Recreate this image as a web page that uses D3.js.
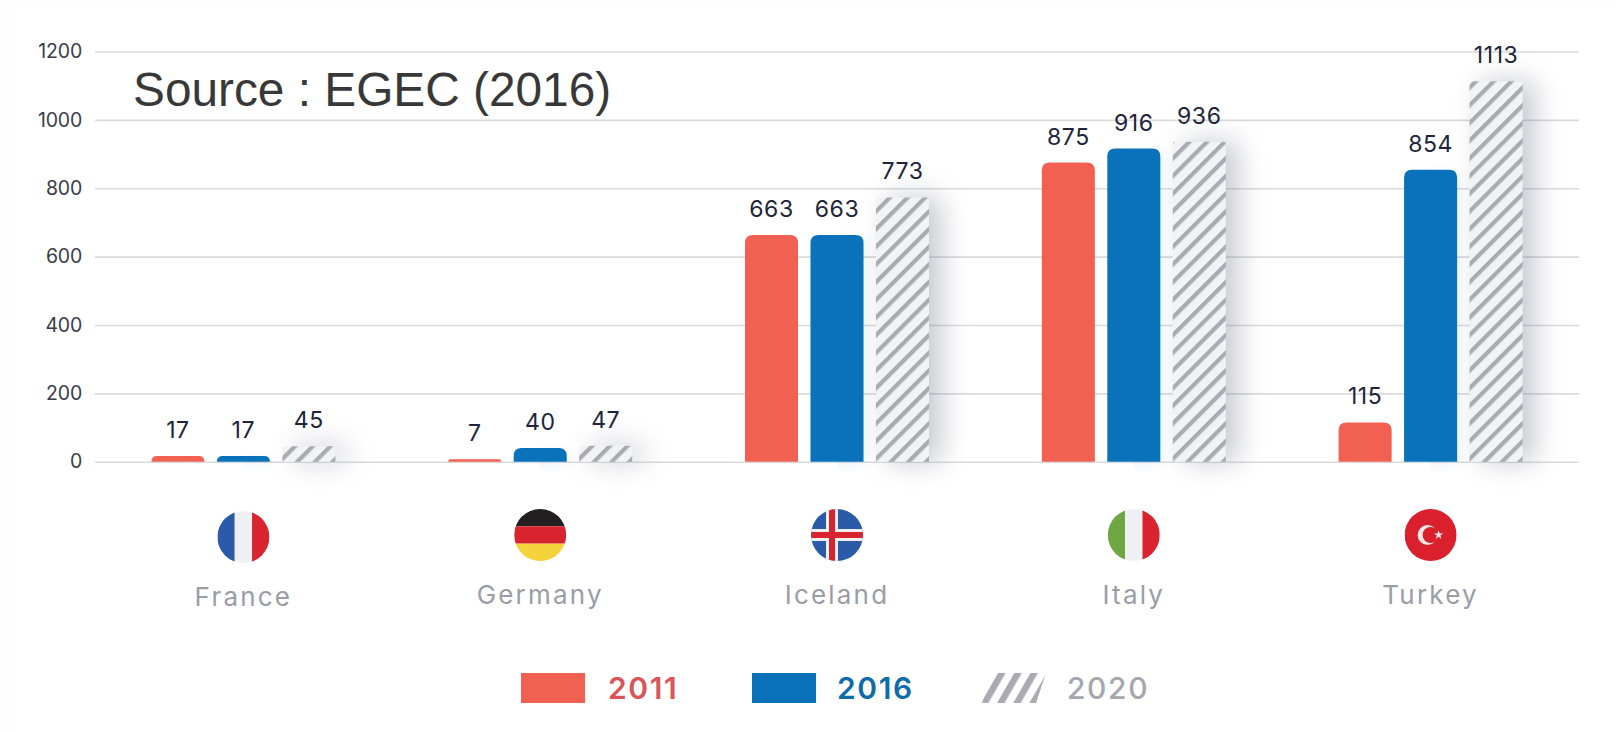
<!DOCTYPE html>
<html>
<head>
<meta charset="utf-8">
<script src="https://cdn.jsdelivr.net/npm/d3@7/dist/d3.min.js"></script>
<style>
  html, body { margin: 0; padding: 0; background: #fff; }
  svg { display: block; }
</style>
</head>
<body>
<svg id="chart" width="1616" height="732"></svg>
<script>
// Geothermal values per country and year
const countries = ["France", "Germany", "Iceland", "Italy", "Turkey"];
const years = ["2011", "2016", "2020"];
const values2011 = [17, 7, 663, 875, 115];
const values2016 = [17, 40, 663, 916, 854];
const values2020 = [45, 47, 773, 936, 1113];
const axisTicks = [0, 200, 400, 600, 800, 1000, 1200];
const sourceNote = "Source : EGEC (2016)";

const width = 1616, height = 732;
const svg = d3.select("#chart");
const defs = svg.append("defs");

const y = d3.scaleLinear().domain([0, 1200]).range([461.7, 51.5]);
const x0 = d3.scaleBand().domain(countries).range([95, 1579]);
const x1 = d3.scaleBand().domain(years)
  .range([-92, 92]).paddingInner(0.19).paddingOuter(0);

const seriesByYear = { "2011": values2011, "2016": values2016, "2020": values2020 };
const red = "#f26052", blue = "#0a72ba", stripeGrey = "#a9abb0";
const labelFace = "Inter, Lato, sans-serif";

// Diagonal hatching for the 2020 bars
const hatch = defs.append("pattern")
  .attr("id", "hatch").attr("patternUnits", "userSpaceOnUse")
  .attr("width", 12.5).attr("height", 12.5)
  .attr("patternTransform", "rotate(45)");
hatch.append("rect").attr("width", 12.5).attr("height", 12.5).attr("fill", "#f1f3f7");
hatch.append("rect").attr("width", 4.2).attr("height", 12.5).attr("fill", stripeGrey);

// Wider hatching for the legend swatch
const legendHatch = defs.append("pattern")
  .attr("id", "legendHatch").attr("patternUnits", "userSpaceOnUse")
  .attr("width", 14).attr("height", 14)
  .attr("patternTransform", "rotate(30)");
legendHatch.append("rect").attr("width", 14).attr("height", 14).attr("fill", "#ffffff");
legendHatch.append("rect").attr("width", 6.5).attr("height", 14).attr("fill", stripeGrey);

// Drop shadows behind the bars, in canvas units so nothing clips them
const addBlur = (id, sd) => defs.append("filter").attr("id", id)
  .attr("filterUnits", "userSpaceOnUse")
  .attr("x", 0).attr("y", 0).attr("width", width).attr("height", height)
  .append("feGaussianBlur").attr("stdDeviation", sd);
addBlur("barShadow", 14);
addBlur("softShadow", 6);

// Faint frame around the plate
svg.append("rect").attr("width", width).attr("height", height).attr("fill", "#fdfdfd");
svg.append("rect").attr("x", 9).attr("y", 8).attr("width", width - 9).attr("height", height - 8).attr("fill", "#fff");

// Horizontal gridlines and value axis
const yAxis = svg.append("g")
  .attr("transform", "translate(95,0)")
  .call(d3.axisLeft(y).tickValues(axisTicks).tickSize(-1484).tickPadding(13).tickFormat(d3.format("d")));
yAxis.select(".domain").remove();
yAxis.selectAll(".tick line").attr("stroke", "#d9dadc").attr("stroke-width", 1.6);
yAxis.selectAll(".tick text")
  .attr("font-family", labelFace).attr("font-size", 19.5)
  .attr("letter-spacing", -0.2)
  .attr("fill", "#3a3d48");

function topRounded(xp, yp, w, h, r) {
  const rr = Math.min(r, h, w / 2);
  return `M${xp},${yp + h}V${yp + rr}Q${xp},${yp} ${xp + rr},${yp}H${xp + w - rr}Q${xp + w},${yp} ${xp + w},${yp + rr}V${yp + h}Z`;
}

// One group of three bars per country
const groups = svg.selectAll("g.country")
  .data(countries).join("g")
  .attr("class", "country")
  .attr("transform", d => `translate(${x0(d) + x0.bandwidth() / 2},0)`);

years.forEach(year => {
  const values = seriesByYear[year];
  const bw = x1.bandwidth();
  const hatched = year === "2020";

  groups.append("rect")
    .attr("x", () => x1(year) + (hatched ? 12 : 2))
    .attr("y", (d, i) => y(values[i]) + (hatched ? 0 : 3))
    .attr("width", bw)
    .attr("height", (d, i) => y(0) - y(values[i]))
    .attr("fill", hatched ? "#5a6078" : (year === "2011" ? red : blue))
    .attr("opacity", hatched ? 0.34 : 0.08)
    .attr("filter", hatched ? "url(#barShadow)" : "url(#softShadow)");

  groups.append("path")
    .attr("d", (d, i) => topRounded(x1(year), y(values[i]), bw, y(0) - y(values[i]), hatched ? 2 : 8))
    .attr("fill", hatched ? "url(#hatch)" : (year === "2011" ? red : blue));

  groups.append("text")
    .attr("x", x1(year) + bw / 2)
    .attr("y", (d, i) => y(values[i]) - 18)
    .attr("text-anchor", "middle")
    .attr("font-family", labelFace)
    .attr("font-size", 23)
    .attr("letter-spacing", 0.6)
    .attr("fill", "#20243a")
    .text((d, i) => values[i]);
});

// Round country flags
const flagR = 26;
const flagY = 535;
const flagStripes = {
  France: { dir: "v", colors: ["#2a5aa8", "#eef0f3", "#d9232e"] },
  Germany: { dir: "h", colors: ["#231f20", "#d9232e", "#f5d33c"] },
  Italy: { dir: "v", colors: ["#6ea644", "#eef0f3", "#d9232e"] },
  Iceland: { dir: "v", colors: ["#2a5aa8"] },
  Turkey: { dir: "v", colors: ["#d9202c"] }
};

countries.forEach((name, i) => {
  const id = "flag" + i;
  defs.append("clipPath").attr("id", id)
    .append("circle").attr("r", flagR);
  const g = groups.filter(d => d === name).append("g")
    .attr("transform", `translate(0,${flagY + (name === "France" ? 2 : 0)})`)
    .attr("clip-path", `url(#${id})`);
  const spec = flagStripes[name];
  const n = spec.colors.length;
  const s = d3.scaleBand().domain(d3.range(n)).range([-flagR, flagR]);
  spec.colors.forEach((c, k) => {
    if (spec.dir === "v") {
      g.append("rect").attr("x", s(k)).attr("y", -flagR).attr("width", s.bandwidth()).attr("height", flagR * 2).attr("fill", c);
    } else {
      g.append("rect").attr("x", -flagR).attr("y", s(k)).attr("width", flagR * 2).attr("height", s.bandwidth()).attr("fill", c);
    }
  });
  if (name === "Iceland") {
    g.append("rect").attr("x", -flagR).attr("y", -6).attr("width", flagR * 2).attr("height", 12).attr("fill", "#eef0f3");
    g.append("rect").attr("x", -11).attr("y", -flagR).attr("width", 12).attr("height", flagR * 2).attr("fill", "#eef0f3");
    g.append("rect").attr("x", -flagR).attr("y", -3).attr("width", flagR * 2).attr("height", 6).attr("fill", "#d9232e");
    g.append("rect").attr("x", -8).attr("y", -flagR).attr("width", 6).attr("height", flagR * 2).attr("fill", "#d9232e");
  }
  if (name === "Turkey") {
    g.append("circle").attr("cx", -3).attr("r", 10).attr("fill", "#f6e6e6");
    g.append("circle").attr("cx", 0).attr("r", 8).attr("fill", "#d9202c");
    g.append("path")
      .attr("d", d3.symbol(d3.symbolStar, 26)())
      .attr("transform", "translate(8,0)")
      .attr("fill", "#f6e6e6");
  }
});

// Country names below the flags
groups.append("text")
  .attr("y", d => d === "France" ? 606 : 604)
  .attr("text-anchor", "middle")
  .attr("font-family", labelFace)
  .attr("font-size", 26)
  .attr("letter-spacing", 2.2)
  .attr("fill", "#999da6")
  .text(d => d);

// Legend row
const legendX = d3.scaleOrdinal().domain(years).range([521, 752, 982]);
const legendFill = d3.scaleOrdinal().domain(years).range([red, blue, "none"]);
const legendText = d3.scaleOrdinal().domain(years).range(["#d9555a", "#0f6cab", "#a4a7ad"]);
const legend = svg.selectAll("g.legend").data(years).join("g")
  .attr("class", "legend")
  .attr("transform", d => `translate(${legendX(d)},673)`);
legend.append("rect")
  .attr("width", 64).attr("height", 30)
  .attr("fill", d => legendFill(d));
legend.filter(d => d === "2020").append("path")
  .attr("d", "M0,30L10,0H64L54,30Z")
  .attr("fill", "url(#legendHatch)");
legend.append("text")
  .attr("x", d => d === "2011" ? 87 : 85).attr("y", 26)
  .attr("font-family", labelFace)
  .attr("font-size", 30)
  .attr("font-weight", d => d === "2020" ? 500 : 600)
  .attr("letter-spacing", 1.6)
  .attr("fill", d => legendText(d))
  .text(d => d);

// Source note laid over the top of the plot
svg.append("text")
  .attr("x", 133).attr("y", 106)
  .attr("font-family", "'Liberation Sans', Arial, sans-serif")
  .attr("font-size", 47.8)
  .attr("fill", "#383838")
  .text(sourceNote);
</script>
</body>
</html>
